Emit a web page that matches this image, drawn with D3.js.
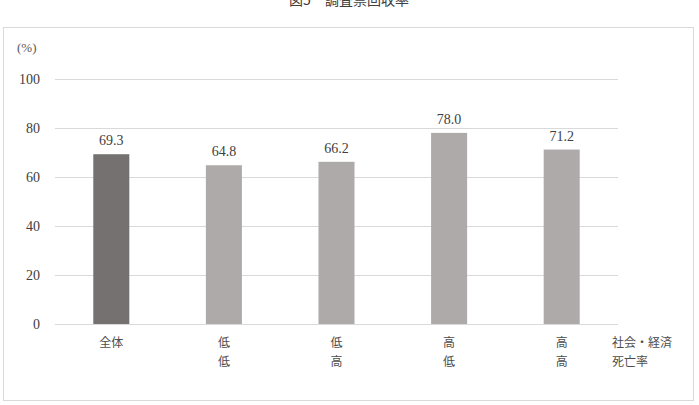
<!DOCTYPE html>
<html>
<head>
<meta charset="utf-8">
<script src="https://cdn.jsdelivr.net/npm/d3@7"></script>
<style>
  body { margin: 0; background: #fff; }
  svg { display: block; }
</style>
</head>
<body>
<div class="display"></div>
<script>
// data
var categories = ["全体", "低低", "低高", "高低", "高高"];
var lineOne = ["全体", "低", "低", "高", "高"];
var lineTwo = ["", "低", "高", "低", "高"];
var rates = [69.3, 64.8, 66.2, 78.0, 71.2];
var yTicks = [0, 20, 40, 60, 80, 100];

var width = 699, height = 405;
var serif = "Liberation Serif, DejaVu Serif, serif";
var cjk = "Noto Sans CJK JP, sans-serif";

var svg = d3.select(".display")
  .append("svg")
  .attr("width", width)
  .attr("height", height);

// title sits partly above the top edge, as in the reference
svg.append("text")
  .attr("x", 349).attr("y", 5)
  .attr("text-anchor", "middle")
  .attr("font-family", cjk)
  .attr("font-size", 14)
  .attr("fill", "#404040")
  .text("図5　調査票回収率");

// chart frame
svg.append("rect")
  .attr("x", 3.5).attr("y", 27.5)
  .attr("width", 690).attr("height", 373)
  .attr("fill", "none")
  .attr("stroke", "#d9d9d9");

var x = d3.scaleBand()
  .domain(categories)
  .range([55, 618])
  .paddingInner(0.68)
  .paddingOuter(0.34);

var y = d3.scaleLinear()
  .domain([0, 100])
  .range([324, 79]);

// gridlines
svg.selectAll("line.grid")
  .data(yTicks)
  .enter().append("line")
  .attr("class", "grid")
  .attr("x1", 55).attr("x2", 618)
  .attr("y1", function(d) { return Math.round(y(d)) + 0.5; })
  .attr("y2", function(d) { return Math.round(y(d)) + 0.5; })
  .attr("stroke", "#d9d9d9");

// y axis labels
var yAxis = svg.append("g")
  .attr("transform", "translate(40,0)")
  .call(d3.axisLeft(y).tickValues(yTicks).tickSize(0).tickPadding(0));
yAxis.select(".domain").remove();
yAxis.selectAll("text")
  .attr("font-family", serif)
  .attr("font-size", 14)
  .attr("fill", "#404040");

svg.append("text")
  .attr("x", 17).attr("y", 52)
  .attr("font-family", serif)
  .attr("font-size", 13)
  .attr("fill", "#595959")
  .text("(%)");

// bars
svg.selectAll("rect.bar")
  .data(rates)
  .enter().append("rect")
  .attr("class", "bar")
  .attr("x", function(d, i) { return x(categories[i]); })
  .attr("y", function(d) { return y(d); })
  .attr("width", x.bandwidth())
  .attr("height", function(d) { return y(0) - y(d); })
  .attr("fill", function(d, i) { return i === 0 ? "#767171" : "#aeaaaa"; });

// value labels
svg.selectAll("text.val")
  .data(rates)
  .enter().append("text")
  .attr("class", "val")
  .attr("x", function(d, i) { return x(categories[i]) + x.bandwidth() / 2; })
  .attr("y", function(d) { return y(d) - 9; })
  .attr("text-anchor", "middle")
  .attr("font-family", serif)
  .attr("font-size", 14)
  .attr("fill", "#404040")
  .text(function(d) { return d.toFixed(1); });

// category labels, two lines each
svg.selectAll("text.cat1")
  .data(lineOne)
  .enter().append("text")
  .attr("class", "cat1")
  .attr("x", function(d, i) { return x(categories[i]) + x.bandwidth() / 2; })
  .attr("y", 347)
  .attr("text-anchor", "middle")
  .attr("font-family", cjk)
  .attr("font-size", 12)
  .attr("fill", "#4d4d4d")
  .text(function(d) { return d; });

svg.selectAll("text.cat2")
  .data(lineTwo)
  .enter().append("text")
  .attr("class", "cat2")
  .attr("x", function(d, i) { return x(categories[i]) + x.bandwidth() / 2; })
  .attr("y", 366)
  .attr("text-anchor", "middle")
  .attr("font-family", cjk)
  .attr("font-size", 12)
  .attr("fill", "#4d4d4d")
  .text(function(d) { return d; });

// axis caption on the right
svg.append("text")
  .attr("x", 612).attr("y", 347)
  .attr("font-family", cjk)
  .attr("font-size", 12)
  .attr("fill", "#4d4d4d")
  .text("社会・経済");
svg.append("text")
  .attr("x", 612).attr("y", 366)
  .attr("font-family", cjk)
  .attr("font-size", 12)
  .attr("fill", "#4d4d4d")
  .text("死亡率");
</script>
</body>
</html>
